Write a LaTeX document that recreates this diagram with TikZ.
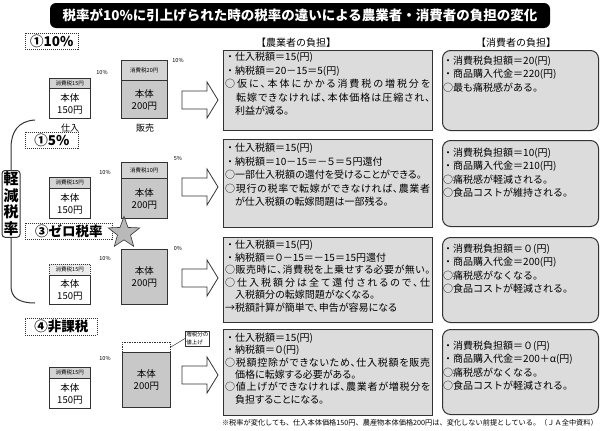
\documentclass[tikz,border=0pt]{standalone}
\usepackage{fontspec}
\setmainfont{Noto Sans CJK JP}
\newfontfamily\jpp{Noto Sans CJK JP}[RawFeature=+palt]
\makeatletter
\def\fl@endmark{fl@endmark}
\newcommand\fl[1]{\hbox to 205pt{\fl@first#1\fl@endmark}}
\def\fl@first#1{#1\fl@rest}
\def\fl@rest#1{\ifx#1\fl@endmark\else\hskip0pt plus 1fil\relax#1\expandafter\fl@rest\fi}
\makeatother
\newcommand\dt{\makebox[10pt]{・}}
\usetikzlibrary{shapes.geometric}
\definecolor{boxgray}{HTML}{DCDCDC}
\definecolor{labgray}{HTML}{D4D4D4}
\definecolor{salegray}{HTML}{C8C8C8}
\definecolor{edge}{HTML}{333333}
\begin{document}
\begin{tikzpicture}[x=1pt,y=-1pt,
  farmbox/.style={draw=edge, line width=1.3pt, fill=boxgray, anchor=north west, inner sep=0, minimum width=209pt},
  consbox/.style={draw=edge, line width=1pt, fill=boxgray, anchor=north west, inner sep=0, minimum width=156pt, rounded corners=8pt},
  ftxt/.style={anchor=north west, inner sep=0, align=left, font=\jpp\fontsize{10}{13.5}\selectfont},
  ctxt/.style={anchor=north west, inner sep=0, align=left, font=\fontsize{10}{13.3}\selectfont},
  seclab/.style={draw=edge, line width=0.7pt, dash pattern=on 1pt off 1pt, anchor=north west, inner sep=0, font=\fontsize{13.5}{13.5}\selectfont\bfseries},
  taxlab/.style={draw=edge, line width=0.5pt, fill=labgray, anchor=north west, inner sep=0, minimum width=41pt, font=\fontsize{5.5}{6}\selectfont},
  pbody/.style={draw=edge, line width=0.8pt, fill=white, anchor=north west, inner sep=0, minimum width=41pt, align=center, font=\fontsize{9.5}{12}\selectfont},
  sbody/.style={draw=edge, line width=0.8pt, fill=salegray, anchor=north west, inner sep=0, minimum width=46pt, align=center, font=\fontsize{9.5}{12}\selectfont},
  stlab/.style={draw=edge, line width=0.5pt, fill=labgray, anchor=north west, inner sep=0, minimum width=46pt, font=\fontsize{5.5}{6}\selectfont},
  pct/.style={inner sep=0, font=\fontsize{5.5}{6}\selectfont},
  captxt/.style={inner sep=0, font=\fontsize{9}{10}\selectfont},
  arr/.style={draw=edge, line width=0.8pt, fill=white, line join=miter},
  hdr/.style={inner sep=0, font=\fontsize{10}{11}\selectfont}
]
\useasboundingbox (0,0) rectangle (600,431);
\fill[white] (0,0) rectangle (600,431);

% title
\node[fill=black, rounded corners=6pt, minimum width=500pt, minimum height=25pt, inner sep=0] (title) at (300,15.5)
  {\color{white}\fontsize{13.5}{14}\selectfont\bfseries 税率が10\%に引上げられた時の税率の違いによる農業者・消費者の負担の変化};

\node[hdr] (h1) at (296,43) {【農業者の負担】};
\node[hdr] (h2) at (516,43) {【消費者の負担】};

% ---------- section 1
\node[seclab, minimum width=53pt, minimum height=16pt] (s1) at (25,33) {①10\%};
\node[taxlab, minimum height=10pt] (p1l) at (49,78) {消費税15円};
\node[pbody, minimum height=30pt] (p1b) at (49,88) {本体\\150円};
\node[pct] (p1p) at (102,72) {10\%};
\node[stlab, minimum height=20pt] (s1l) at (121,60) {消費税20円};
\node[sbody, minimum height=38pt] (s1b) at (121,80) {本体\\200円};
\node[pct] (s1p) at (178,60) {10\%};
\node[captxt] (c1a) at (70,128) {仕入};
\node[captxt] (c1b) at (145,128) {販売};
\draw[arr, shift={(0,100)}] (182,-9) -- (207,-9) -- (207,-18) -- (218,0) -- (207,18) -- (207,9) -- (182,9) -- cycle;

\node[farmbox, minimum height=80pt] (f1) at (223,50) {};
\node[ftxt] (f1t) at (225,52) {\dt 仕入税額＝15(円)\\\dt 納税額＝20－15＝5(円)\\\fl{○仮に、本体にかかる消費税の増税分を}\\\fl{　転嫁できなければ、本体価格は圧縮され、}\\　利益が減る。};
\node[consbox, minimum height=80pt] (k1) at (442,50) {};
\node[ctxt] (k1t) at (443,56) {・消費税負担額＝20(円)\\・商品購入代金＝220(円)\\○最も痛税感がある。};

% ---------- section 2
\node[seclab, minimum width=53pt, minimum height=16pt] (s2) at (25,132) {①5\%};
\node[taxlab, minimum height=11pt] (p2l) at (49,177) {消費税15円};
\node[pbody, minimum height=30pt] (p2b) at (49,188) {本体\\150円};
\node[pct] (p2p) at (105,172) {10\%};
\node[stlab, minimum height=16pt] (s2l) at (121,162) {消費税10円};
\node[sbody, minimum height=40pt] (s2b) at (121,178) {本体\\200円};
\node[pct] (s2p) at (178,158) {5\%};
\draw[arr, shift={(0,187)}] (182,-9) -- (207,-9) -- (207,-18) -- (218,0) -- (207,18) -- (207,9) -- (182,9) -- cycle;

\node[farmbox, minimum height=88pt] (f2) at (223,139) {};
\node[ftxt] (f2t) at (225,143) {\dt 仕入税額＝15(円)\\\dt 納税額＝10－15＝－５＝５円還付\\○一部仕入税額の還付を受けることができる。\\\fl{○現行の税率で転嫁ができなければ、農業者}\\　が仕入税額の転嫁問題は一部残る。};
\node[consbox, minimum height=86pt] (k2) at (442,140) {};
\node[ctxt] (k2t) at (443,148) {・消費税負担額＝10(円)\\・商品購入代金＝210(円)\\○痛税感が軽減される。\\○食品コストが維持される。};

% ---------- section 3
\node[seclab, minimum width=87pt, minimum height=16pt] (s3) at (25,223) {③ゼロ税率};
\node[star, star points=5, star point ratio=2.4, fill=gray!55, draw=edge, line width=0.6pt, minimum size=33pt, inner sep=0] (star) at (124,233) {};
\node[taxlab, minimum height=11pt, fill=gray!15, dash pattern=on 1pt off 1pt] (p3l) at (49,264) {消費税15円};
\node[pbody, minimum height=29pt] (p3b) at (49,275) {本体\\150円};
\node[pct] (p3p) at (105,258) {10\%};
\node[sbody, minimum height=55pt] (s3b) at (121,249) {本体\\200円};
\node[pct] (s3p) at (178,248) {0\%};
\draw[arr, shift={(0,278)}] (182,-9) -- (207,-9) -- (207,-18) -- (218,0) -- (207,18) -- (207,9) -- (182,9) -- cycle;

\node[farmbox, minimum height=85pt] (f3) at (223,237) {};
\node[ftxt, font=\jpp\fontsize{10}{12.5}\selectfont] (f3t) at (225,240) {\dt 仕入税額＝15(円)\\\dt 納税額＝０－15＝－15＝15円還付\\\fl{○販売時に、消費税を上乗せする必要が無い。}\\\fl{○仕入税額分は全て還付されるので、仕}\\　入税額分の転嫁問題がなくなる。\\→税額計算が簡単で、申告が容易になる};
\node[consbox, minimum height=85pt] (k3) at (442,237) {};
\node[ctxt] (k3t) at (443,244) {・消費税負担額＝０(円)\\・商品購入代金＝200(円)\\○痛税感がなくなる。\\○食品コストが軽減される。};

% ---------- section 4
\node[seclab, minimum width=72pt, minimum height=17pt] (s4) at (25,318) {④非課税};
\node[draw=edge, line width=0.5pt, dash pattern=on 1.5pt off 1pt, anchor=north west, inner sep=0, minimum width=48pt, minimum height=10pt] (s4d) at (122,342) {};
\node[sbody, minimum width=48pt, minimum height=55pt] (s4b) at (122,352) {本体\\200円};
\node[draw=edge, line width=0.5pt, fill=white, anchor=north west, inner sep=1pt, align=left, font=\fontsize{5.5}{7.5}\selectfont] (note) at (185,331) {増税分の\\値上げ};
\draw[edge, line width=0.5pt] (s4d.east) -- (note.west);
\node[taxlab, minimum height=11pt] (p4l) at (49,367) {消費税15円};
\node[pbody, minimum height=30pt] (p4b) at (49,378) {本体\\150円};
\node[pct] (p4p) at (105,358) {10\%};
\draw[arr, shift={(0,375)}] (182,-9) -- (207,-9) -- (207,-18) -- (218,0) -- (207,18) -- (207,9) -- (182,9) -- cycle;

\node[farmbox, minimum height=86pt] (f4) at (223,329) {};
\node[ftxt, font=\jpp\fontsize{10}{12.3}\selectfont] (f4t) at (225,333) {\dt 仕入税額＝15(円)\\\dt 納税額＝０(円)\\\fl{○税額控除ができないため、仕入税額を販売}\\　価格に転嫁する必要がある。\\\fl{○値上げができなければ、農業者が増税分を}\\　負担することになる。};
\node[consbox, minimum height=85pt] (k4) at (442,329) {};
\node[ctxt] (k4t) at (443,341) {・消費税負担額＝０(円)\\・商品購入代金＝200＋α(円)\\○痛税感がなくなる。\\○食品コストが軽減される。};

% ---------- reduced-rate bracket
\node[draw=edge, line width=1pt, fill=white, rounded corners=3pt, inner sep=1.5pt, align=center, font=\fontsize{15}{16.5}\selectfont\bfseries, anchor=north] (kg) at (11,170) {軽\\減\\税\\率};
\coordinate (brtop) at (35,120);
\coordinate (brbot) at (35,303);
\draw[edge, line width=1pt] (brtop) .. controls (18,121) and (11,132) .. (11,148) -- (kg.north);
\draw[edge, line width=1pt] (kg.south) -- (11,286) .. controls (11,297) and (18,303) .. (brbot);

% footnote
\node[inner sep=0, anchor=east, font=\fontsize{7.2}{8}\selectfont] (fn) at (598,423) {※税率が変化しても、仕入本体価格150円、農産物本体価格200円は、変化しない前提としている。（ＪＡ全中資料）};
\end{tikzpicture}
\end{document}
